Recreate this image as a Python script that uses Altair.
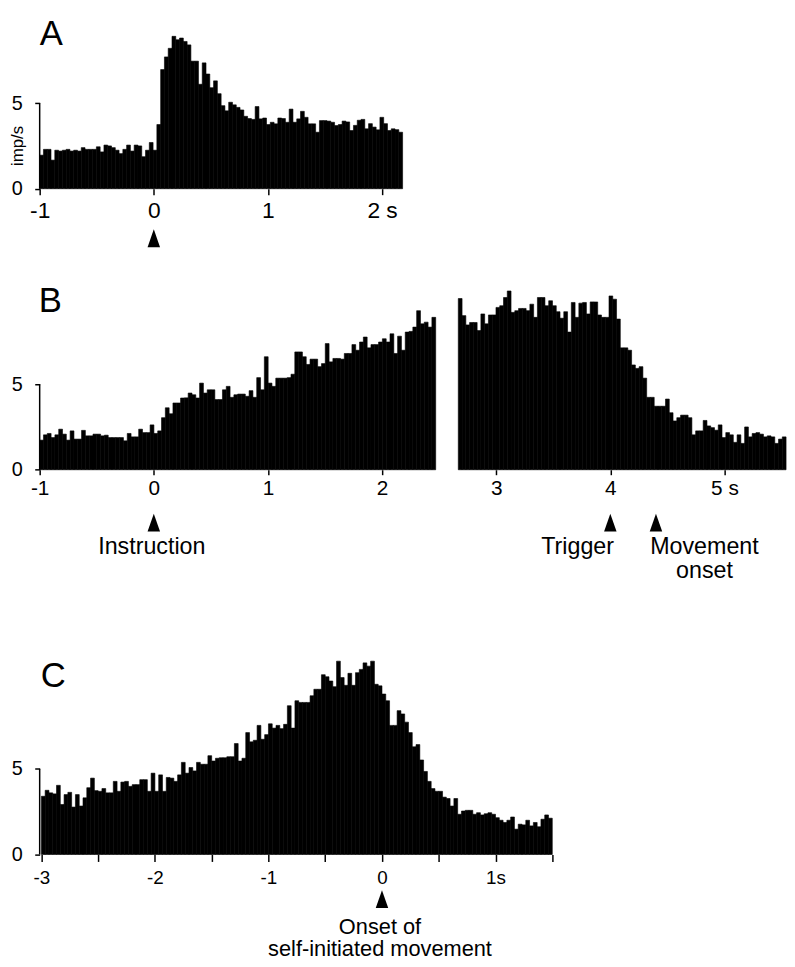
import altair as alt
import pandas as pd

FONT = "Liberation Sans"
INK = "#000000"

# ---------------- data ----------------
# Panel A: instruction-aligned histogram, imp/s per bin
A_START, A_END = -1.0, 2.18
A_RATE = [
    1.96, 2.3, 2.3, 1.67, 2.25, 2.2, 2.25, 2.3, 2.2, 2.25,
    2.2, 2.4, 2.3, 2.3, 2.3, 2.45, 2.15, 2.55, 2.5, 2.4,
    2.25, 2.05, 2.3, 2.55, 2.2, 2.55, 2.5, 1.87, 2.25, 2.7,
    2.25, 3.75, 6.96, 7.7, 8.2, 8.9, 8.7, 8.8, 8.6, 8.4,
    7.45, 7.45, 6.1, 7.35, 6.7, 5.9, 6.3, 5.55, 4.85, 4.55,
    5.05, 4.9, 4.75, 4.6, 4.23, 4.1, 4.05, 4.8, 4.08, 4.13,
    3.75, 3.88, 3.79, 4.13, 4.1, 3.88, 4.65, 3.88, 4.08, 4.52,
    4.17, 3.79, 3.79, 3.3, 3.98, 3.98, 3.95, 3.88, 3.69, 3.75,
    3.95, 3.9, 3.4, 3.7, 4.0, 4.05, 3.5, 3.8, 3.6, 3.44,
    4.17, 3.8, 3.4, 3.5, 3.45, 3.3,
]

# Panel B: two segments (instruction-aligned, then trigger-aligned)
B_LEFT_START, B_LEFT_END = -1.0, 2.47
B_LEFT_RATE = [
    1.73, 2.04, 2.12, 1.88, 2.04, 2.37, 2.08, 1.73, 2.27, 1.79,
    1.79, 2.3, 1.98, 1.98, 2.08, 2.08, 1.98, 2.02, 1.88, 1.88,
    1.88, 1.88, 1.69, 2.12, 1.92, 1.92, 2.37, 2.17, 2.17, 2.62,
    2.12, 2.27, 3.04, 3.62, 3.27, 3.9, 3.9, 4.19, 4.2, 4.48,
    4.38, 4.19, 5.06, 4.48, 4.67, 4.67, 4.1, 4.1, 4.67, 4.87,
    4.23, 4.38, 4.42, 4.42, 4.29, 4.62, 4.23, 5.38, 4.67, 6.6,
    5.06, 4.87, 5.35, 5.35, 5.35, 5.38, 5.58, 6.88, 6.88, 6.6,
    6.15, 6.46, 6.46, 6.02, 6.2, 7.37, 6.3, 6.5, 6.5, 6.46,
    6.79, 6.79, 7.31, 6.98, 7.46, 7.75, 7.12, 7.31, 7.31, 7.46,
    7.65, 7.46, 7.94, 6.79, 7.8, 6.98, 8.04, 8.08, 8.33, 9.29,
    8.52, 8.62, 8.33, 8.9,
]
B_RIGHT_START, B_RIGHT_END = 2.668, 5.54
B_RIGHT_RATE = [
    10.0, 9.0, 8.46, 8.6, 8.6, 8.13, 9.1, 8.52, 9.04, 9.04,
    9.48, 9.58, 10.06, 10.44, 9.19, 9.29, 9.42, 9.42, 9.29, 9.67,
    8.9, 10.06, 10.06, 9.58, 9.87, 9.58, 9.23, 8.85, 9.23, 8.04,
    9.77, 8.9, 9.73, 9.77, 9.1, 9.8, 9.8, 9.04, 8.9, 8.9,
    10.15, 9.96, 8.8, 7.12, 7.12, 6.98, 6.12, 5.92, 6.02, 5.35,
    4.23, 4.23, 3.71, 3.71, 3.71, 4.13, 3.33, 2.85, 3.04, 3.19,
    3.19, 3.04, 2.04, 2.27, 2.27, 2.88, 2.56, 2.46, 2.31, 2.62,
    1.88, 2.17, 2.04, 1.6, 2.04, 1.54, 2.5, 1.92, 2.12, 2.17,
    2.08, 1.92, 1.98, 1.92, 1.54, 1.79, 1.92,
]

# Panel C: aligned on self-initiated movement onset
C_START, C_END = -3.0, 1.5
C_RATE = [
    3.4, 3.75, 3.6, 3.54, 4.04, 2.92, 3.5, 3.63, 2.77, 3.5,
    2.83, 3.31, 3.9, 4.46, 3.73, 3.69, 3.85, 3.6, 3.6, 4.27,
    3.69, 4.23, 4.27, 3.98, 4.08, 4.08, 4.37, 4.37, 3.69, 4.75,
    3.69, 4.65, 3.69, 4.5, 4.46, 4.27, 4.65, 5.38, 4.75, 5.08,
    4.88, 5.38, 5.27, 5.27, 5.77, 5.46, 5.62, 5.65, 5.65, 5.71,
    5.71, 6.48, 5.46, 5.62, 7.12, 6.58, 6.67, 7.54, 6.73, 7.0,
    7.63, 7.38, 7.54, 7.35, 7.6, 8.69, 7.38, 8.98, 8.88, 8.88,
    8.88, 9.27, 9.65, 9.65, 10.5, 10.38, 10.13, 9.8, 11.29, 10.33,
    9.88, 10.58, 9.88, 10.62, 10.81, 11.19, 11.0, 11.29, 9.94, 9.85,
    9.37, 8.98, 7.54, 7.54, 8.4, 8.21, 7.73, 7.12, 6.29, 6.42,
    5.52, 4.85, 4.27, 3.85, 3.69, 3.69, 3.35, 3.27, 2.83, 3.27,
    2.35, 2.54, 2.58, 2.58, 2.35, 2.44, 2.31, 2.38, 2.44, 2.35,
    2.15, 2.0, 1.87, 2.0, 2.19, 1.48, 1.77, 1.73, 2.0, 1.67,
    1.87, 1.62, 2.06, 2.31, 2.12,
]

# axes ticks
Y_TICKS = [0, 5]
A_TICKS = [-1, 0, 1, 2]
B_TICKS = [-1, 0, 1, 2, 3, 4, 5]
C_TICKS = [-3, -2.5, -2, -1.5, -1, -0.5, 0, 0.5, 1, 1.5]

# panel letters
PANEL_LETTERS = ["A", "B", "C"]

# events (arrowheads) and their labels
A_EVENT_TIMES = [0.0]
A_EVENT_LABELS = [""]
B_EVENT_TIMES = [0.0, 4.0, 4.4]
B_EVENT_LABELS = ["Instruction", "Trigger", "Movement\nonset"]
C_EVENT_TIMES = [0.0]
C_EVENT_LABELS = ["Onset of\nself-initiated movement"]

# ---------------- styling / layout ----------------
PX_PER_UNIT = 17.3        # pixels per imp/s
SPACING = 100.2           # gap between stacked plot areas (flush bounds)
TRIANGLE = "M0,-1L0.7,1L-0.7,1Z"


def bin_table(segments):
    rows = []
    for start, end, rates in segments:
        w = (end - start) / len(rates)
        for i, r in enumerate(rates):
            rows.append({"t0": start + i * w, "t1": start + (i + 1) * w, "rate": r})
    return pd.DataFrame(rows)


def panel(bins, xdom, px_per_s, ymax, xticks, label_expr, letter, letter_y, letter_x,
          xfs, xtick, xpad, arrow_dy, ev_times, ev_labels, label_dx, label_dy,
          label_fs, line_h, ytitle=None):
    width = (xdom[1] - xdom[0]) * px_per_s
    height = ymax * PX_PER_UNIT
    xs = alt.Scale(domain=list(xdom), nice=False, zero=False)
    ys = alt.Scale(domain=[0, ymax], nice=False, zero=True)
    xaxis = alt.Axis(values=xticks, labelExpr=label_expr, domain=False, grid=False,
                     ticks=True, tickSize=xtick, tickWidth=1.5, tickColor=INK,
                     labelFont=FONT, labelFontSize=xfs, labelColor=INK,
                     labelPadding=xpad, labelFlush=False, labelOverlap=False,
                     title=None)
    ykw = dict(values=Y_TICKS, labelExpr="'' + datum.value", domain=False, grid=False,
               tickSize=5, tickWidth=1.5, tickColor=INK, labelFont=FONT,
               labelFontSize=20, labelColor=INK, labelPadding=12.5,
               labelFlush=False, labelOverlap=False)
    if ytitle:
        yaxis = alt.Axis(title=ytitle, titleFont=FONT, titleFontSize=17,
                         titleFontWeight="normal", titleColor=INK, titleAngle=270,
                         titleAlign="center", titleBaseline="alphabetic",
                         titleX=-17, titleY=134, **ykw)
    else:
        yaxis = alt.Axis(title=None, **ykw)

    bars = alt.Chart(bins).mark_rect(color=INK, stroke=INK, strokeWidth=0.6).encode(
        x=alt.X("t0:Q", scale=xs, axis=xaxis),
        x2="t1:Q",
        y=alt.Y("rate:Q", scale=ys, axis=yaxis),
        y2=alt.datum(0),
    )
    yline = alt.Chart(pd.DataFrame({"lo": [Y_TICKS[0]], "hi": [Y_TICKS[-1]]})).mark_rule(
        color=INK, strokeWidth=1.5
    ).encode(
        x=alt.value(0),
        y=alt.Y("lo:Q", scale=ys, axis=yaxis),
        y2="hi:Q",
    )
    tag = alt.Chart(pd.DataFrame({"letter": [letter]})).mark_text(
        font=FONT, fontSize=35, color=INK, align="left", baseline="alphabetic"
    ).encode(
        x=alt.value(letter_x),
        y=alt.value(letter_y),
        text="letter:N",
    )
    ev = pd.DataFrame({"time": ev_times, "label": ev_labels})
    arrows = alt.Chart(ev).mark_point(shape=TRIANGLE, size=324, filled=True, color=INK,
                                      opacity=1, strokeWidth=0).encode(
        x=alt.X("time:Q", scale=xs, axis=xaxis),
        y=alt.value(height + arrow_dy),
    )
    layers = [bars, yline, tag, arrows]
    for i in range(len(ev_times)):
        if not ev_labels[i]:
            continue
        one = ev.iloc[[i]]
        layers.append(
            alt.Chart(one).mark_text(font=FONT, fontSize=label_fs, color=INK,
                                     align="center", baseline="alphabetic",
                                     dx=label_dx[i], lineBreak="\n",
                                     lineHeight=line_h).encode(
                x=alt.X("time:Q", scale=xs, axis=xaxis),
                y=alt.value(height + label_dy),
                text="label:N",
            )
        )
    return alt.layer(*layers).properties(width=width, height=height)


A = panel(bin_table([(A_START, A_END, A_RATE)]), (-1.0, 2.18), 115.3, 10.27, A_TICKS,
          "datum.value == 2 ? '2 s' : '' + datum.value", PANEL_LETTERS[0], 32, 0,
          23, 6, 5.3, 50, A_EVENT_TIMES, A_EVENT_LABELS, [0], 85, 23, 23,
          ytitle="imp/s")

B = panel(bin_table([(B_LEFT_START, B_LEFT_END, B_LEFT_RATE),
                     (B_RIGHT_START, B_RIGHT_END, B_RIGHT_RATE)]),
          (-1.0, 5.54), 115.3, 10.6, B_TICKS,
          "datum.value == 5 ? '5 s' : '' + datum.value", PANEL_LETTERS[1], 24.1, -1,
          21, 5, 2.5, 53.5, B_EVENT_TIMES, B_EVENT_LABELS, [-2, -33, 49], 85, 23.5, 24)

C = panel(bin_table([(C_START, C_END, C_RATE)]), (-3.015, 1.5), 114.7, 16.64, C_TICKS,
          "datum.value == 1 ? '1s' : (datum.value % 1 == 0 ? '' + datum.value : '')",
          PANEL_LETTERS[2], 118.8, 1, 19, 7, 7.3, 45, C_EVENT_TIMES, C_EVENT_LABELS,
          [-2], 80, 22, 23)

chart = alt.vconcat(A, B, C, spacing=SPACING, bounds="flush").properties(
    padding={"left": 1, "top": 0, "right": 0, "bottom": 0}
).configure_view(stroke=None)

chart.save("out.html", embed_options={"renderer": "svg", "actions": False})
